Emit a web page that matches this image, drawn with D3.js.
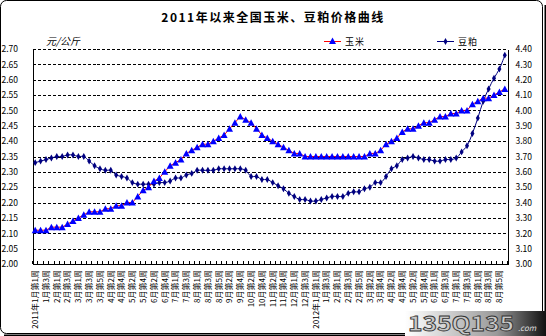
<!DOCTYPE html>
<html>
<head>
<meta charset="utf-8">
<script src="https://cdn.jsdelivr.net/npm/d3@7"></script>
<style>
  body { margin: 0; background: #fff; }
  svg text { font-family: "Noto Sans CJK SC", "DejaVu Sans", sans-serif; }
</style>
</head>
<body>
<svg id="chart" width="546" height="336"></svg>
<script>
// Week labels shown on the category axis (one every two weeks)
const weekLabels = [
  "2011年1月第1周", "1月第3周", "2月第1周", "2月第3周", "3月第1周", "3月第3周",
  "3月第5周", "4月第2周", "4月第4周", "5月第2周", "5月第4周", "6月第2周",
  "6月第4周", "7月第1周", "7月第3周", "8月第1周", "8月第3周", "8月第5周",
  "9月第2周", "9月第4周", "10月第2周", "10月第4周", "11月第2周", "11月第4周",
  "12月第1周", "12月第3周", "2012年1月第1周", "1月第3周", "2月第1周", "2月第3周",
  "2月第5周", "3月第2周", "3月第4周", "4月第2周", "4月第4周", "5月第2周",
  "5月第4周", "6月第1周", "6月第3周", "7月第1周", "7月第3周", "8月第1周",
  "8月第3周", "8月第5周"
];

// 玉米 weekly price, 元/公斤 (left axis)
const cornPrice = [
  2.11, 2.11, 2.11, 2.12, 2.12, 2.12, 2.13, 2.14, 2.15, 2.16,
  2.17, 2.17, 2.17, 2.18, 2.18, 2.19, 2.19, 2.20, 2.20, 2.22,
  2.24, 2.25, 2.27, 2.28, 2.30, 2.32, 2.33, 2.34, 2.36, 2.37,
  2.38, 2.39, 2.39, 2.40, 2.41, 2.42, 2.44, 2.46, 2.48, 2.47,
  2.46, 2.44, 2.42, 2.41, 2.40, 2.39, 2.38, 2.37, 2.36, 2.36,
  2.35, 2.35, 2.35, 2.35, 2.35, 2.35, 2.35, 2.35, 2.35, 2.35,
  2.35, 2.35, 2.36, 2.36, 2.37, 2.39, 2.40, 2.41, 2.43, 2.44,
  2.44, 2.45, 2.46, 2.46, 2.47, 2.48, 2.48, 2.49, 2.49, 2.50,
  2.50, 2.52, 2.53, 2.54, 2.54, 2.55, 2.56, 2.57
];

// 豆粕 weekly price, 元/公斤 (right axis)
const soyMealPrice = [
  3.66, 3.67, 3.68, 3.69, 3.70, 3.70, 3.71, 3.71, 3.70, 3.70,
  3.67, 3.64, 3.62, 3.61, 3.61, 3.58, 3.57, 3.56, 3.53, 3.52,
  3.52, 3.52, 3.52, 3.53, 3.53, 3.54, 3.56, 3.56, 3.58, 3.59,
  3.61, 3.61, 3.61, 3.61, 3.62, 3.62, 3.62, 3.62, 3.62, 3.61,
  3.57, 3.57, 3.55, 3.55, 3.53, 3.51, 3.49, 3.46, 3.44, 3.42,
  3.42, 3.41, 3.41, 3.42, 3.43, 3.44, 3.44, 3.44, 3.46, 3.47,
  3.47, 3.49, 3.50, 3.53, 3.53, 3.57, 3.62, 3.64, 3.68, 3.69,
  3.70, 3.69, 3.68, 3.68, 3.67, 3.67, 3.68, 3.68, 3.69, 3.73,
  3.77, 3.85, 3.95, 4.06, 4.14, 4.21, 4.27, 4.36
];

// Value-axis tick labels
const leftTicks  = [2.00, 2.05, 2.10, 2.15, 2.20, 2.25, 2.30, 2.35, 2.40, 2.45, 2.50, 2.55, 2.60, 2.65, 2.70];
const rightTicks = [3.00, 3.10, 3.20, 3.30, 3.40, 3.50, 3.60, 3.70, 3.80, 3.90, 4.00, 4.10, 4.20, 4.30, 4.40];

const title = "2011年以来全国玉米、豆粕价格曲线";
const unitLabel = "元/公斤";
const seriesNames = ["玉米", "豆粕"];

const svg = d3.select("#chart");
const plot = { left: 32.5, right: 507.5, top: 49, bottom: 264 };

// Chart frame with rounded corners and a drop shadow
svg.append("path")
  .attr("d", "M4,335.5 H541 Q545.5,335.5 545.5,331 V5")
  .attr("fill", "none").attr("stroke", "#000").attr("stroke-width", 2);
svg.append("rect")
  .attr("x", 0.5).attr("y", 0.5).attr("width", 542).attr("height", 333)
  .attr("rx", 6).attr("fill", "#fff").attr("stroke", "#000");

const weeks = d3.range(cornPrice.length);
const x = d3.scaleBand().domain(weeks).range([plot.left, plot.right]);
const cx = i => x(i) + x.bandwidth() / 2;
const yL = d3.scaleLinear().domain([2.0, 2.7]).range([plot.bottom, plot.top]);
const yR = d3.scaleLinear().domain([3.0, 4.4]).range([plot.bottom, plot.top]);

// Dashed horizontal gridlines
svg.append("g")
  .attr("transform", `translate(${plot.left},0)`)
  .call(d3.axisLeft(yL).tickValues(leftTicks.slice(1)).tickSize(-(plot.right - plot.left)).tickFormat(""))
  .call(g => g.select(".domain").remove())
  .call(g => g.selectAll("line").attr("stroke", "#000").attr("stroke-dasharray", "3,2")
    .attr("shape-rendering", "crispEdges"));

// Left value axis
svg.append("g")
  .attr("transform", `translate(${plot.left},0)`)
  .call(d3.axisLeft(yL).tickValues(leftTicks).tickSize(0).tickPadding(12).tickFormat(d3.format(".2f")))
  .call(g => g.select(".domain").attr("stroke", "#000").attr("shape-rendering", "crispEdges"))
  .call(g => g.selectAll("text").attr("font-family", "Liberation Mono, monospace")
    .attr("font-size", 8.5).attr("fill", "#000").attr("text-anchor", "start").attr("x", -31));

// Right value axis
svg.append("g")
  .attr("transform", `translate(${plot.right},0)`)
  .call(d3.axisRight(yR).tickValues(rightTicks).tickSize(0).tickPadding(8).tickFormat(d3.format(".2f")))
  .call(g => g.select(".domain").attr("stroke", "#000").attr("shape-rendering", "crispEdges"))
  .call(g => g.selectAll("text").attr("font-family", "Liberation Mono, monospace")
    .attr("font-size", 8.5).attr("fill", "#000"));

// Category axis: tick marks at week boundaries, labels every two weeks
svg.append("g")
  .attr("transform", `translate(0,${plot.bottom})`)
  .call(d3.axisBottom(x).tickValues([]).tickSizeOuter(0))
  .call(g => g.select(".domain").attr("stroke", "#000").attr("shape-rendering", "crispEdges"))
  .call(g => g.selectAll(".wk").data(weeks.concat([weeks.length])).join("line")
    .attr("class", "wk")
    .attr("x1", i => i < weeks.length ? x(i) : plot.right)
    .attr("x2", i => i < weeks.length ? x(i) : plot.right)
    .attr("y1", 0).attr("y2", -3).attr("stroke", "#000").attr("shape-rendering", "crispEdges"));

svg.append("g")
  .attr("transform", `translate(0,${plot.bottom})`)
  .call(d3.axisBottom(x).tickValues(weeks.filter(i => i % 2 === 0)).tickSize(0)
    .tickFormat(i => weekLabels[i / 2]))
  .call(g => g.select(".domain").remove())
  .call(g => g.selectAll("text")
    .attr("font-size", 8).attr("fill", "#000")
    .attr("text-anchor", "end")
    .attr("transform", "rotate(-90)")
    .attr("x", -6).attr("y", 0).attr("dy", "0.35em"));

// 豆粕 line with diamond markers
const soyLine = d3.line().x((d, i) => cx(i)).y(d => yR(d)).curve(d3.curveCatmullRom.alpha(0.5));
svg.append("path").datum(soyMealPrice)
  .attr("d", soyLine).attr("fill", "none").attr("stroke", "#000080").attr("stroke-width", 1);
svg.append("g").selectAll("path").data(soyMealPrice).join("path")
  .attr("transform", (d, i) => `translate(${cx(i)},${yR(d)})`)
  .attr("d", d3.symbol(d3.symbolDiamond, 14))
  .attr("fill", "#000080");

// 玉米 line with triangle markers
const cornLine = d3.line().x((d, i) => cx(i)).y(d => yL(d));
svg.append("path").datum(cornPrice)
  .attr("d", cornLine).attr("fill", "none").attr("stroke", "#ff0000").attr("stroke-width", 1);
const tri = "M0,-3.5L3.5,3L-3.5,3Z";
svg.append("g").selectAll("path").data(cornPrice).join("path")
  .attr("transform", (d, i) => `translate(${cx(i)},${yL(d)})`)
  .attr("d", tri).attr("fill", "#0000ff");

// Title and unit
svg.append("text").attr("x", 273).attr("y", 22).attr("text-anchor", "middle")
  .attr("font-size", 12).attr("font-weight", "bold").attr("letter-spacing", 1.5)
  .text(title);
svg.append("text").attr("x", 46).attr("y", 45)
  .attr("font-size", 10).attr("font-style", "italic").text(unitLabel);

// Legend
const legend = svg.append("g");
legend.append("line").attr("x1", 324).attr("x2", 341).attr("y1", 41.5).attr("y2", 41.5)
  .attr("stroke", "#ff0000");
legend.append("path").attr("transform", "translate(332.5,41)").attr("d", tri).attr("fill", "#0000ff");
legend.append("text").attr("x", 345).attr("y", 45).attr("font-size", 9).attr("letter-spacing", 1).text(seriesNames[0]);
legend.append("line").attr("x1", 437).attr("x2", 454).attr("y1", 41.5).attr("y2", 41.5)
  .attr("stroke", "#000080");
legend.append("path").attr("transform", "translate(445.5,41.5)")
  .attr("d", d3.symbol(d3.symbolDiamond, 14)).attr("fill", "#000080");
legend.append("text").attr("x", 458).attr("y", 45).attr("font-size", 9).attr("letter-spacing", 1).text(seriesNames[1]);

// Site mark in the lower right corner
const defs = svg.append("defs");
const grad = defs.append("linearGradient").attr("id", "markBg");
grad.append("stop").attr("offset", "0%").attr("stop-color", "#fff");
grad.append("stop").attr("offset", "65%").attr("stop-color", "#999");
grad.append("stop").attr("offset", "100%").attr("stop-color", "#111");
const mark = svg.append("g");
mark.append("rect").attr("x", 405).attr("y", 311).attr("width", 141).attr("height", 25)
  .attr("fill", "url(#markBg)");
mark.append("text").attr("x", 408).attr("y", 331)
  .attr("font-family", "DejaVu Sans, sans-serif").attr("font-weight", "bold")
  .attr("font-size", 20).attr("textLength", 106).attr("lengthAdjust", "spacingAndGlyphs")
  .attr("fill", "#c8c8c8").attr("stroke", "#333").attr("stroke-width", 0.8)
  .text("135Q135");
mark.append("text").attr("x", 518).attr("y", 331).attr("font-size", 8)
  .attr("font-style", "italic").attr("fill", "#ddd").text(".com");
</script>
</body>
</html>
